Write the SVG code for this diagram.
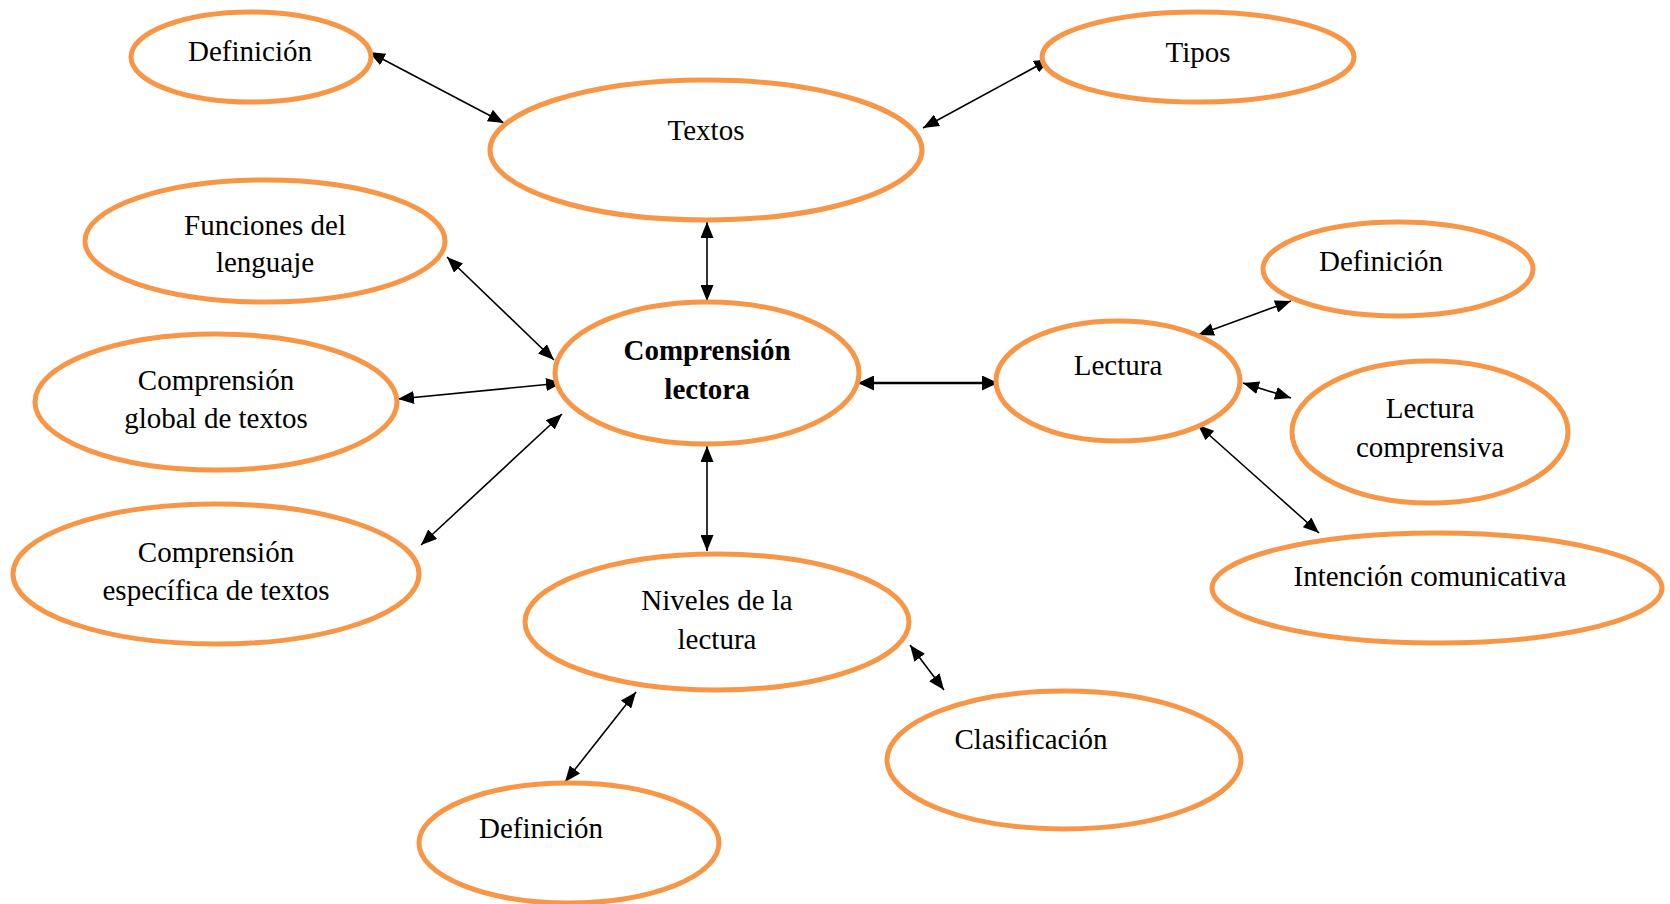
<svg xmlns="http://www.w3.org/2000/svg" width="1670" height="904" viewBox="0 0 1670 904">
<style>
.n{fill:#fff;stroke:#F79646;stroke-width:5}
.t{font-family:"Liberation Serif","Times New Roman",serif;font-size:29px;fill:#000;text-anchor:middle}
.b{font-weight:bold}
.c{stroke:#000;stroke-width:1.6;fill:none;marker-start:url(#ah);marker-end:url(#ah)}
.k{stroke-width:2.6;marker-start:url(#ahb);marker-end:url(#ahb)}
</style>
<defs>
<marker id="ah" markerUnits="userSpaceOnUse" viewBox="0 0 16 13" refX="16" refY="6.5" markerWidth="16" markerHeight="13" orient="auto-start-reverse"><path d="M0,0 L16,6.5 L0,13 Z" fill="#000"/></marker>
<marker id="ahb" markerUnits="userSpaceOnUse" viewBox="0 0 16 15" refX="16" refY="7.5" markerWidth="16" markerHeight="15" orient="auto-start-reverse"><path d="M0,0 L16,7.5 L0,15 Z" fill="#000"/></marker>
</defs>
<rect width="1670" height="904" fill="#fff"/>
<g id="connectors">
<line class="c" x1="369" y1="52" x2="504" y2="123"/>
<line class="c" x1="923" y1="128" x2="1050" y2="59"/>
<line class="c" x1="707" y1="222" x2="707" y2="301"/>
<line class="c" x1="447" y1="257" x2="554" y2="360"/>
<line class="c" x1="398" y1="399" x2="562" y2="383"/>
<line class="c" x1="421" y1="545" x2="562" y2="414"/>
<line class="c" x1="707" y1="446" x2="707" y2="551"/>
<line class="c k" x1="858" y1="383" x2="998" y2="383"/>
<line class="c" x1="1198" y1="335" x2="1291" y2="301"/>
<line class="c" x1="1243" y1="383" x2="1291" y2="398"/>
<line class="c" x1="1198" y1="425" x2="1319" y2="533"/>
<line class="c" x1="636" y1="692" x2="565" y2="782"/>
<line class="c" x1="910" y1="645" x2="944" y2="690"/>
</g>
<g id="definicion1"><ellipse class="n" cx="251" cy="57" rx="120" ry="45"/><text class="t" x="250" y="61">Definición</text></g>
<g id="textos"><ellipse class="n" cx="706" cy="150" rx="216" ry="70"/><text class="t" x="706" y="140">Textos</text></g>
<g id="tipos"><ellipse class="n" cx="1198" cy="57" rx="156" ry="45"/><text class="t" x="1198" y="62">Tipos</text></g>
<g id="funciones"><ellipse class="n" cx="265" cy="241" rx="180" ry="61"/><text class="t" x="265" y="235">Funciones del</text><text class="t" x="265" y="272">lenguaje</text></g>
<g id="comprension"><ellipse class="n" cx="707" cy="373" rx="152" ry="71"/><text class="t b" x="707" y="360">Comprensión</text><text class="t b" x="707" y="399">lectora</text></g>
<g id="global"><ellipse class="n" cx="216" cy="402" rx="181" ry="68"/><text class="t" x="216" y="390">Comprensión</text><text class="t" x="216" y="428">global de textos</text></g>
<g id="especifica"><ellipse class="n" cx="216" cy="574" rx="203" ry="70"/><text class="t" x="216" y="562">Comprensión</text><text class="t" x="216" y="600">específica de textos</text></g>
<g id="niveles"><ellipse class="n" cx="717" cy="622" rx="192" ry="68"/><text class="t" x="717" y="610">Niveles de la</text><text class="t" x="717" y="649">lectura</text></g>
<g id="definicion3"><ellipse class="n" cx="569" cy="843" rx="150" ry="60"/><text class="t" x="541" y="838">Definición</text></g>
<g id="clasificacion"><ellipse class="n" cx="1064" cy="760" rx="177" ry="69"/><text class="t" x="1031" y="749">Clasificación</text></g>
<g id="lectura"><ellipse class="n" cx="1118" cy="381" rx="122" ry="60"/><text class="t" x="1118" y="375">Lectura</text></g>
<g id="definicion2"><ellipse class="n" cx="1398" cy="269" rx="135" ry="47"/><text class="t" x="1381" y="271">Definición</text></g>
<g id="lecturacomp"><ellipse class="n" cx="1430" cy="432" rx="138" ry="71"/><text class="t" x="1430" y="418">Lectura</text><text class="t" x="1430" y="457">comprensiva</text></g>
<g id="intencion"><ellipse class="n" cx="1437" cy="588" rx="225" ry="55"/><text class="t" x="1430" y="586">Intención comunicativa</text></g>
</svg>
